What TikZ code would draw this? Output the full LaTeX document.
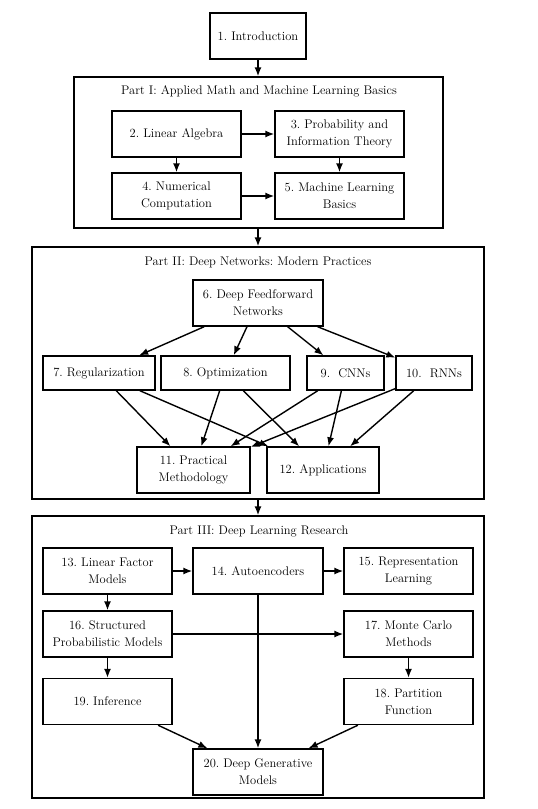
\documentclass[tikz,border=0pt]{standalone}
\usetikzlibrary{arrows.meta}
\begin{document}
\begin{tikzpicture}[x=1pt,y=-1pt,
  box/.style={draw,line width=1.4pt,inner sep=0pt,align=center,
    font=\fontsize{12.5}{17}\selectfont},
  tall/.style={minimum height=46pt},
  short/.style={minimum height=34pt},
  partbox/.style={draw,line width=1.4pt,inner sep=0pt},
  parttitle/.style={inner sep=0pt,font=\fontsize{12.5}{17}\selectfont},
  arr/.style={line width=1.4pt,-{Latex[length=9pt,width=7pt]}}]
\useasboundingbox (0,0) rectangle (538,809);
\frenchspacing
% Part boxes
\node[partbox,minimum width=369pt,minimum height=151pt] (p1) at (258.5,152.5) {};
\node[partbox,minimum width=452pt,minimum height=252pt] (p2) at (258,373) {};
\node[partbox,minimum width=452pt,minimum height=282pt] (p3) at (258,657) {};
\node[parttitle] (t1) at (259,91) {Part I: Applied Math and Machine Learning Basics};
\node[parttitle] (t2) at (258,262) {Part II: Deep Networks: Modern Practices};
\node[parttitle] (t3) at (259,531) {Part III: Deep Learning Research};
% Nodes
\node[box,tall,minimum width=96pt] (b1) at (258,36) {1. Introduction};
\node[box,tall,minimum width=129pt] (b2) at (176.5,134) {2. Linear Algebra};
\node[box,tall,minimum width=129pt] (b3) at (339.5,134) {3. Probability and\\Information Theory};
\node[box,tall,minimum width=129pt] (b4) at (176.5,196) {4. Numerical\\Computation};
\node[box,tall,minimum width=129pt] (b5) at (339.5,196) {5. Machine Learning\\Basics};
\node[box,tall,minimum width=130pt] (b6) at (258,303) {6. Deep Feedforward\\Networks};
\node[box,short,minimum width=112pt] (b7) at (99,373) {7. Regularization};
\node[box,short,minimum width=129pt] (b8) at (225.5,373) {8. Optimization};
\node[box,short,minimum width=77pt] (b9) at (345.5,373) {9.\ \ CNNs};
\node[box,short,minimum width=76pt] (b10) at (434,373) {10.\ \ RNNs};
\node[box,tall,minimum width=113pt] (b11) at (193.5,470) {11. Practical\\Methodology};
\node[box,tall,minimum width=112pt] (b12) at (323,470) {12. Applications};
\node[box,tall,minimum width=129pt] (b13) at (107.5,571) {13. Linear Factor\\Models};
\node[box,tall,minimum width=130pt] (b14) at (258,571) {14. Autoencoders};
\node[box,tall,minimum width=129pt] (b15) at (408.5,571) {15. Representation\\Learning};
\node[box,tall,minimum width=129pt] (b16) at (107.5,634) {16. Structured\\Probabilistic Models};
\node[box,tall,minimum width=129pt] (b17) at (408.5,634) {17. Monte Carlo\\Methods};
\node[box,tall,minimum width=129pt] (b19) at (107.5,701.5) {19. Inference};
\node[box,tall,minimum width=129pt] (b18) at (408.5,701.5) {18. Partition\\Function};
\node[box,tall,minimum width=130pt] (b20) at (258,772) {20. Deep Generative\\Models};
% Connectors between parts
\draw[arr] (b1.south) -- (b1.south |- p1.north);
\draw[arr] (b1.south |- p1.south) -- (b1.south |- p2.north);
\draw[arr] (b1.south |- p2.south) -- (b1.south |- p3.north);
% Part I
\draw[arr] (b2) -- (b3);
\draw[arr] (b2) -- (b4);
\draw[arr] (b3) -- (b5);
\draw[arr] (b4) -- (b5);
% Part II
\foreach \t in {b7,b8,b9,b10} \draw[arr] (b6) -- (\t);
\foreach \s in {b7,b8,b9,b10} {
  \draw[arr] (\s) -- (b11);
  \draw[arr] (\s) -- (b12);
}
% Part III
\draw[arr] (b13) -- (b14);
\draw[arr] (b14) -- (b15);
\draw[arr] (b13) -- (b16);
\draw[arr] (b16) -- (b17);
\draw[arr] (b16) -- (b19);
\draw[arr] (b17) -- (b18);
\draw[arr] (b14) -- (b20);
\draw[arr] (b19) -- (b20);
\draw[arr] (b18) -- (b20);
\end{tikzpicture}
\end{document}
